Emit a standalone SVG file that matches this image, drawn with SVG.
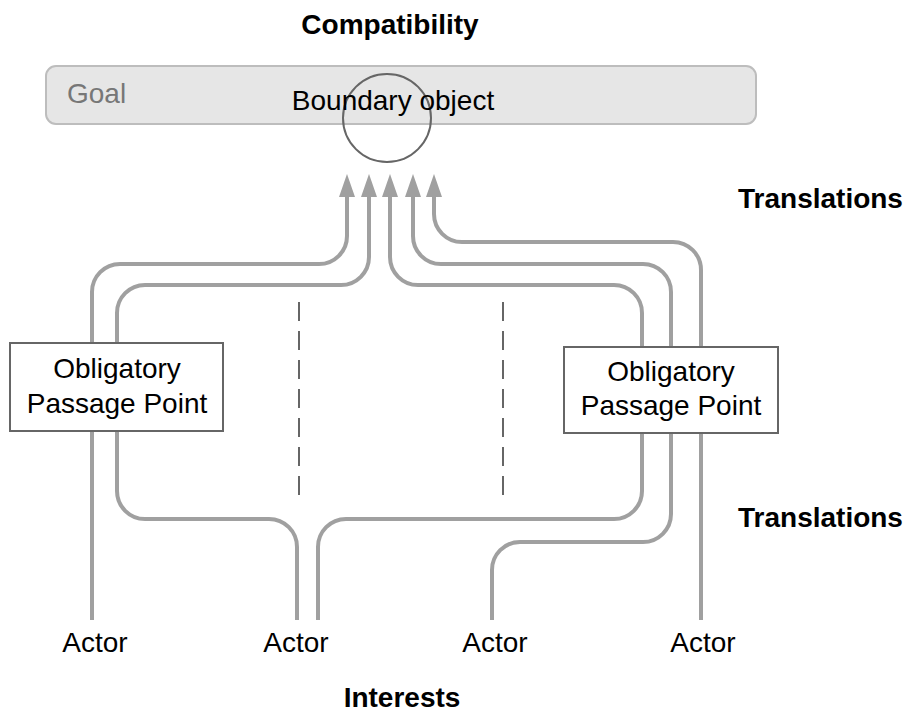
<svg xmlns="http://www.w3.org/2000/svg" width="909" height="715" viewBox="0 0 909 715">
<style>
text{font-family:"Liberation Sans",Arial,sans-serif;font-size:28px;fill:#000}
.b{font-weight:bold}
.c{text-anchor:middle}
.flow{fill:none;stroke:#a0a0a0;stroke-width:4;marker-end:url(#ah)}
.dash{fill:none;stroke:#666;stroke-width:2;stroke-dasharray:19 10}
.box{fill:#fff;stroke:#666;stroke-width:2}
</style>
<defs>
<marker id="ah" viewBox="0 0 23 16" markerWidth="23" markerHeight="16" refX="0" refY="8" orient="auto" markerUnits="userSpaceOnUse">
<path d="M0,0 L23,8 L0,16 z" fill="#a0a0a0"/>
</marker>
</defs>
<rect width="909" height="715" fill="#fff"/>
<text class="b c" x="390" y="34">Compatibility</text>
<text class="b" x="738" y="208">Translations</text>
<text class="b" x="738" y="527">Translations</text>
<text class="b c" x="402" y="707">Interests</text>
<g id="goal">
<rect x="46" y="66" width="710" height="58" rx="10" fill="#e6e6e6" stroke="#bdbdbd" stroke-width="2"/>
<text x="67" y="103" style="fill:#777">Goal</text>
</g>
<g id="boundary">
<circle cx="387" cy="118" r="44" fill="none" stroke="#666" stroke-width="2"/>
<text class="c" x="393" y="110">Boundary object</text>
</g>
<g id="connectors">
<path class="flow" d="M92,620 V292 A28,28 0 0 1 120,264 H319 A28,28 0 0 0 347,236 V197"/>
<path class="flow" d="M297,620 V547 A28,28 0 0 0 269,519 H145 A28,28 0 0 1 117,491 V313 A28,28 0 0 1 145,285 H341 A28,28 0 0 0 369,257 V197"/>
<path class="flow" d="M318,620 V547 A28,28 0 0 1 346,519 H614 A28,28 0 0 0 642,491 V313 A28,28 0 0 0 614,285 H418 A28,28 0 0 1 390,257 V197"/>
<path class="flow" d="M492,620 V570 A28,28 0 0 1 520,542 H643 A28,28 0 0 0 671,514 V292 A28,28 0 0 0 643,264 H441 A28,28 0 0 1 413,236 V197"/>
<path class="flow" d="M701,620 V270 A28,28 0 0 0 673,242 H462 A28,28 0 0 1 434,214 V197"/>
<path class="dash" d="M299,302 V496"/>
<path class="dash" d="M503,302 V496"/>
</g>
<g id="opp-left">
<rect class="box" x="10" y="343" width="213" height="88"/>
<text class="c" x="117" y="378">Obligatory</text>
<text class="c" x="117" y="413">Passage Point</text>
</g>
<g id="opp-right">
<rect class="box" x="564" y="347" width="214" height="86"/>
<text class="c" x="671" y="381">Obligatory</text>
<text class="c" x="671" y="415">Passage Point</text>
</g>
<g id="actor1"><text class="c" x="95" y="652">Actor</text></g>
<g id="actor2"><text class="c" x="296" y="652">Actor</text></g>
<g id="actor3"><text class="c" x="495" y="652">Actor</text></g>
<g id="actor4"><text class="c" x="703" y="652">Actor</text></g>
</svg>
